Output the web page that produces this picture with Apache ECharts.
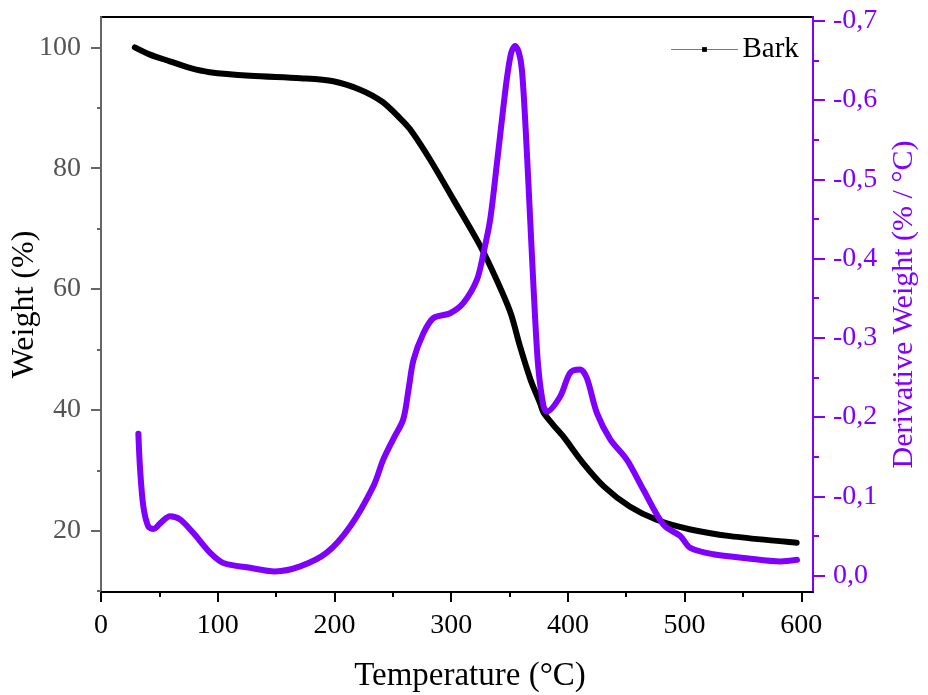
<!DOCTYPE html>
<html>
<head>
<meta charset="utf-8">
<script src="https://cdn.jsdelivr.net/npm/echarts@6/dist/echarts.min.js"></script>
<style>
  html, body { margin: 0; padding: 0; background: #fff; }
  #main { width: 928px; height: 695px; }
</style>
</head>
<body>
<div id="main"></div>
<script>
// TGA curve (weight %)
var weightTemp = [29, 42, 59, 76, 93, 128, 171, 199, 222, 241, 256, 265, 282, 302, 325, 339, 351, 359, 368, 376, 379, 387, 396, 413, 431, 453, 476, 505, 539, 596]
var weightVal = [100.0, 98.8, 97.7, 96.6, 95.9, 95.3, 94.9, 94.4, 93.0, 91.0, 88.3, 86.4, 81.4, 74.8, 67.1, 61.5, 56.0, 50.5, 45.0, 41.2, 39.6, 37.6, 35.6, 31.2, 27.3, 24.0, 21.8, 20.2, 19.1, 18.0]

// DTG curve (derivative weight)
var derivTemp = [32, 33.5, 36.3, 40.5, 44.8, 52, 59, 67.7, 79, 93.4, 104.8, 127.7, 149, 170.6, 193.4, 213.4, 233.4, 241.7, 250.3, 258.9, 263.5, 267.7, 276.3, 284.8, 299.1, 310.5, 322, 327.7, 333.4, 339.2, 344.8, 348, 351.5, 354.8, 358, 360.6, 363.4, 366.3, 369.1, 372, 374.8, 379.1, 382, 393.4, 402, 410.6, 416.3, 424.9, 436.3, 450.6, 464.8, 482, 496.3, 504.9, 524.8, 553.4, 582, 596.3]
var derivVal = [-0.179, -0.134, -0.087, -0.062, -0.059, -0.068, -0.075, -0.071, -0.054, -0.029, -0.016, -0.010, -0.0054, -0.0117, -0.029, -0.062, -0.113, -0.146, -0.172, -0.197, -0.235, -0.272, -0.306, -0.325, -0.331, -0.344, -0.373, -0.407, -0.449, -0.520, -0.592, -0.630, -0.660, -0.668, -0.660, -0.638, -0.575, -0.491, -0.407, -0.323, -0.260, -0.214, -0.207, -0.226, -0.256, -0.260, -0.249, -0.205, -0.172, -0.146, -0.108, -0.064, -0.050, -0.035, -0.027, -0.022, -0.018, -0.020]

// tick labels
var xTicks = [0, 100, 200, 300, 400, 500, 600]
var xMinor = [50, 150, 250, 350, 450, 550]
var wTicks = [20, 40, 60, 80, 100]
var wMinor = [10, 30, 50, 70, 90]
var dTicks = [-0.7, -0.6, -0.5, -0.4, -0.3, -0.2, -0.1, 0]
var dMinor = [-0.65, -0.55, -0.45, -0.35, -0.25, -0.15, -0.05]

var purple = '#7f00ff'
var font = '"Liberation Serif", "Times New Roman", serif'

var myChart = echarts.init(document.getElementById('main'))

function pairs (xs, ys) {
  return xs.map(function (x, i) { return [x, ys[i]] })
}

var option = {
  animation: false,
  backgroundColor: '#fff',
  textStyle: { fontFamily: font },
  grid: {
    left: 101, right: 115, top: 17, bottom: 103,
    containLabel: false, outerBoundsMode: 'none',
    show: true, borderColor: '#000', borderWidth: 2
  },
  legend: {
    data: [{
      name: 'Bark',
      lineStyle: { color: '#777', width: 1 },
      itemStyle: { color: '#000' }
    }],
    left: 666, top: 30,
    itemWidth: 66, itemHeight: 6,
    textStyle: { fontFamily: font, fontSize: 29, color: '#000' }
  },
  xAxis: [
    {
      type: 'value', min: 0, max: 610, position: 'bottom',
      name: 'Temperature (°C)', nameLocation: 'middle', nameGap: 68, nameMoveOverlap: false,
      nameTextStyle: { fontFamily: font, fontSize: 33, color: '#000', padding: [0, 0, 0, 26] },
      axisLine: { onZero: false, lineStyle: { color: '#000', width: 2 } },
      axisTick: { customValues: xTicks, length: 10, lineStyle: { width: 2, color: '#000' } },
      axisLabel: { customValues: xTicks, margin: 20, fontSize: 28, color: '#000', fontFamily: font },
      splitLine: { show: false }
    },
    {
      type: 'value', min: 0, max: 610, position: 'bottom',
      axisLine: { show: false, onZero: false },
      axisTick: { customValues: xMinor, length: 5, lineStyle: { width: 2, color: '#000' } },
      axisLabel: { show: false },
      splitLine: { show: false }
    }
  ],
  yAxis: [
    {
      type: 'value', min: 9.85, max: 105.03, position: 'left',
      name: 'Weight (%)', nameLocation: 'middle', nameGap: 60, nameRotate: 90, nameMoveOverlap: false,
      nameTextStyle: { fontFamily: font, fontSize: 32, color: '#000' },
      axisLine: { show: true, onZero: false, lineStyle: { color: '#666', width: 2 } },
      axisTick: { customValues: wTicks, length: 10, lineStyle: { width: 2, color: '#666' } },
      axisLabel: { customValues: wTicks, margin: 20, fontSize: 28, color: '#555', fontFamily: font },
      splitLine: { show: false }
    },
    {
      type: 'value', min: -0.7047, max: 0.0206, inverse: true, position: 'right',
      name: 'Derivative Weight (% / °C)', nameLocation: 'middle', nameGap: 76, nameRotate: 90, nameMoveOverlap: false,
      nameTextStyle: { fontFamily: font, fontSize: 30, color: purple },
      axisLine: { show: true, onZero: false, lineStyle: { color: purple, width: 2 } },
      axisTick: { customValues: dTicks, length: 12, lineStyle: { width: 2, color: purple } },
      axisLabel: {
        customValues: dTicks, margin: 20, fontSize: 28, color: purple, fontFamily: font,
        formatter: function (v) { return v.toFixed(1).replace('.', ',') }
      },
      splitLine: { show: false }
    },
    {
      type: 'value', min: 9.85, max: 105.03, position: 'left',
      axisLine: { show: false, onZero: false },
      axisTick: { customValues: wMinor, length: 4, lineStyle: { width: 2, color: '#666' } },
      axisLabel: { show: false },
      splitLine: { show: false }
    },
    {
      type: 'value', min: -0.7047, max: 0.0206, inverse: true, position: 'right',
      axisLine: { show: false, onZero: false },
      axisTick: { customValues: dMinor, length: 6, lineStyle: { width: 2, color: purple } },
      axisLabel: { show: false },
      splitLine: { show: false }
    }
  ],
  series: [
    {
      name: 'Bark',
      type: 'line',
      xAxisIndex: 0, yAxisIndex: 0,
      data: pairs(weightTemp, weightVal),
      smooth: 0.3,
      symbol: 'rect', symbolSize: 5, showSymbol: false,
      lineStyle: { color: '#000', width: 6, cap: 'round' },
      itemStyle: { color: '#000' }
    },
    {
      name: 'DTG',
      type: 'line',
      xAxisIndex: 0, yAxisIndex: 1,
      data: pairs(derivTemp, derivVal),
      smooth: 0.3,
      symbol: 'none',
      lineStyle: { color: purple, width: 6, cap: 'round' },
      itemStyle: { color: purple }
    }
  ]
}

myChart.setOption(option)
</script>
</body>
</html>
